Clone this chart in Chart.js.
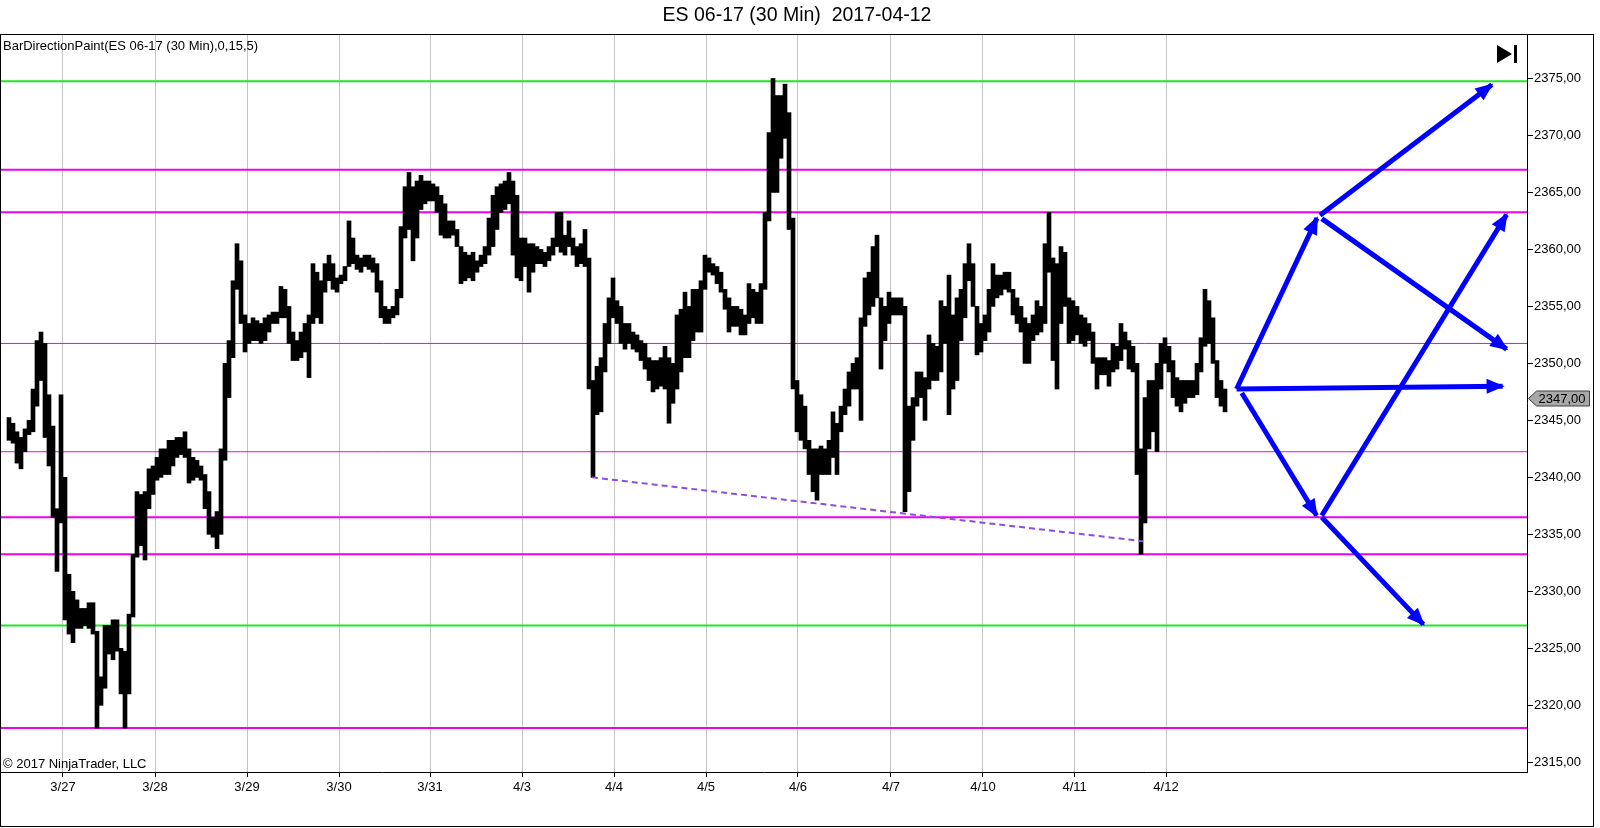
<!DOCTYPE html>
<html>
<head>
<meta charset="utf-8">
<script src="https://cdn.jsdelivr.net/npm/chart.js@4/dist/chart.umd.min.js"></script>
<style>
  html, body { margin: 0; padding: 0; background: #fff; }
  canvas { display: block; }
</style>
</head>
<body>
<canvas id="chart" width="1600" height="828"></canvas>
<script>
const chartTitle = "ES 06-17 (30 Min)  2017-04-12";
const indicatorLabel = "BarDirectionPaint(ES 06-17 (30 Min),0,15,5)";
const copyrightText = "\u00a9 2017 NinjaTrader, LLC";

// x axis is in hours from the left edge of the chart
const dayLabels = ["3/27", "3/28", "3/29", "3/30", "3/31", "4/3", "4/4", "4/5", "4/6", "4/7", "4/10", "4/11", "4/12"];
const dayTicks = [15.5, 38.5, 61.5, 84.5, 107.25, 130.25, 153.25, 176.25, 199.25, 222.5, 245.5, 268.4, 291.25];
const priceTicks = [2315, 2320, 2325, 2330, 2335, 2340, 2345, 2350, 2355, 2360, 2365, 2370, 2375];
const xMax = 381.5;
const yMin = 2314.15;
const yMax = 2378.9;

// hourly low / high, first entry is hour 2
const firstHour = 2;
const barLow = [
  2343.25, 2343, 2341.25, 2340.75, 2342.25, 2343.75, 2344, 2346.25, 2348.5, 2343.5,
  2341, 2336.5, 2331.75, 2336, 2327.5, 2326.25, 2325.5, 2326.75, 2326.75, 2327,
  2326.75, 2326.25, 2318, 2320, 2321.5, 2324.5, 2324, 2324.75, 2321, 2318,
  2321, 2327.75, 2333, 2334, 2332.75, 2337.25, 2338.5, 2339.75, 2340, 2340.25,
  2340.25, 2341, 2341.75, 2342, 2341.75, 2339.5, 2339.75, 2340, 2339.75, 2337.25,
  2335, 2334.75, 2333.75, 2335, 2341.5, 2347, 2350.5, 2356.5, 2353.5, 2351,
  2351.75, 2352, 2352, 2351.75, 2352, 2352.75, 2353.5, 2353.5, 2354, 2354,
  2351.75, 2350.25, 2350.25, 2350.5, 2351, 2348.75, 2353.5, 2354, 2353.5, 2356.25,
  2357.25, 2356.5, 2356.25, 2357, 2357.25, 2358.5, 2358.75, 2358.25, 2358, 2358.5,
  2358.25, 2358, 2356.25, 2354, 2353.5, 2353.5, 2354, 2354.25, 2355.75, 2361,
  2361.75, 2359, 2361, 2363.5, 2364, 2364.25, 2364.25, 2363.25, 2361.25, 2361,
  2361, 2361.25, 2360.25, 2357, 2357.25, 2357.5, 2357.25, 2358, 2358.5, 2358.75,
  2359.5, 2360.25, 2361.75, 2363.25, 2363.5, 2364, 2359.5, 2357.5, 2357.25, 2358.5,
  2356.25, 2358, 2358.75, 2358.75, 2358.5, 2359, 2359.5, 2360.25, 2359.75, 2359.5,
  2360.25, 2359.5, 2358.5, 2358.75, 2358.5, 2347.75, 2340, 2345.5, 2345.75, 2349.25,
  2351.75, 2354, 2353.5, 2351.75, 2351.25, 2351.75, 2351.25, 2351, 2350.25, 2349.5,
  2348.5, 2347.5, 2347.75, 2348, 2347.75, 2344.75, 2346.5, 2347.75, 2349.25, 2350.5,
  2350.5, 2352, 2352.75, 2352.75, 2356.5, 2358, 2357.75, 2357, 2356.25, 2354.75,
  2352.75, 2353.25, 2353.25, 2352.5, 2352.5, 2353.5, 2354, 2353.5, 2353.5, 2356.5,
  2362.5, 2365, 2365, 2368, 2369.75, 2361.75, 2347.75, 2344, 2343.25, 2342.5,
  2340.25, 2338.75, 2338, 2340.25, 2340.25, 2340.25, 2341.75, 2340.25, 2344, 2345.5,
  2346.25, 2347.75, 2347.75, 2345, 2353.25, 2354.25, 2355, 2355.75, 2349.5, 2352,
  2353.5, 2354.25, 2354.25, 2354.25, 2337, 2338.75, 2343.25, 2346.25, 2347, 2345,
  2347.75, 2348.5, 2348.5, 2349.25, 2351.75, 2345.5, 2347.75, 2348.5, 2352, 2354,
  2357.25, 2355, 2350.75, 2351, 2352, 2352.75, 2355, 2355.75, 2356, 2356.5,
  2356.25, 2354.25, 2353.5, 2352.75, 2350, 2350, 2352, 2352.5, 2352.75, 2353.5,
  2358, 2350.25, 2347.75, 2353.5, 2355, 2351.75, 2352, 2352.5, 2351.75, 2351.5,
  2352, 2350, 2347.75, 2349, 2349, 2348, 2349.25, 2349.5, 2350.25, 2351.25,
  2349.5, 2349.25, 2340.25, 2333.25, 2336, 2342.5, 2344, 2342.25, 2347.75, 2350,
  2349.25, 2347, 2346.25, 2345.75, 2346.5, 2347, 2347, 2347.25, 2349.25, 2351.5,
  2351.75, 2350, 2347, 2346.25, 2345.75
];
const barHigh = [
  2345.25, 2344.75, 2344, 2343.5, 2344.25, 2345, 2347.75, 2352, 2352.75, 2351.75,
  2347.25, 2344.5, 2337.25, 2347.25, 2340, 2331.5, 2330, 2329.25, 2328.5, 2328.5,
  2329, 2329, 2326.5, 2322.5, 2327, 2327, 2327.5, 2327.5, 2325, 2324.75,
  2328, 2333.25, 2338.75, 2338.5, 2338.75, 2340.75, 2341, 2341.75, 2342.5, 2342.5,
  2343.25, 2343.25, 2343.5, 2343.5, 2344, 2342.5, 2341.75, 2341.5, 2341, 2340.25,
  2338.75, 2336.5, 2337, 2342.5, 2350, 2352, 2357.25, 2360.5, 2359, 2354.25,
  2353.5, 2354, 2353.75, 2353.5, 2354, 2354.25, 2354.5, 2354.5, 2356.75, 2356.5,
  2355, 2352.75, 2352, 2352.75, 2353.5, 2354.25, 2358.75, 2358, 2357.25, 2358.75,
  2359.5, 2358.75, 2357.5, 2357.75, 2358.5, 2362.5, 2361, 2359.5, 2359.25, 2359.5,
  2359.5, 2359.25, 2358.75, 2357.25, 2355, 2354.75, 2355, 2356.5, 2362, 2365.5,
  2366.75, 2365.5, 2366, 2366.5, 2366, 2366, 2365.75, 2365.5, 2364.75, 2364,
  2362.5, 2362.5, 2361.75, 2360.25, 2359.75, 2359.5, 2359.75, 2359, 2359.5, 2360.25,
  2362.75, 2364.75, 2365.5, 2365.75, 2366, 2366.75, 2366, 2364.75, 2361, 2361,
  2360.5, 2360.5, 2360.25, 2360, 2359.75, 2360.25, 2361, 2363.25, 2363.25, 2361.25,
  2362.5, 2361, 2360.25, 2360.5, 2361.75, 2359.25, 2348.5, 2349.75, 2350.5, 2353.5,
  2355.75, 2357.5, 2355.5, 2355, 2353.5, 2353.5, 2352.75, 2352.5, 2352, 2351.75,
  2350.5, 2350.25, 2350.25, 2350.5, 2351.5, 2350.5, 2350, 2354.25, 2354.75, 2356.25,
  2355, 2356.5, 2356.5, 2357.25, 2359.5, 2359.25, 2358.75, 2358.5, 2358, 2356.5,
  2355.75, 2355, 2355, 2354.75, 2354.25, 2357, 2356.5, 2356.25, 2357, 2363.25,
  2370.25, 2375, 2373.5, 2373.5, 2374.5, 2372, 2362.75, 2348.5, 2347.25, 2346.25,
  2343.25, 2342.5, 2342.5, 2342.75, 2342.5, 2343.25, 2345.75, 2344.75, 2346.25, 2347.75,
  2349.25, 2350, 2350.5, 2354, 2357.5, 2358, 2360.25, 2361.25, 2355.75, 2355,
  2356.25, 2355.75, 2355.75, 2355.75, 2355, 2346.25, 2347, 2349.25, 2349.25, 2348.75,
  2352.5, 2351.75, 2351.5, 2355.5, 2355, 2357.75, 2354.25, 2355.75, 2356.5, 2358.75,
  2360.5, 2358.75, 2355, 2353.5, 2354.25, 2356.5, 2358.75, 2357.75, 2357.75, 2358,
  2358, 2356.5, 2355.75, 2355, 2354, 2353.5, 2354.25, 2355.5, 2355, 2360.5,
  2363.25, 2359.25, 2358.75, 2360.25, 2359.75, 2355.75, 2355.5, 2355, 2354.25, 2354,
  2353.5, 2352.75, 2350.5, 2350.5, 2350.5, 2350.25, 2351.75, 2351.5, 2353.5, 2352.75,
  2352, 2351.5, 2350, 2342.5, 2347, 2348.5, 2348.5, 2350, 2351.75, 2352.25,
  2351.5, 2350.25, 2348.75, 2348.5, 2348.5, 2348.5, 2348.5, 2350, 2352.25, 2356.5,
  2355.5, 2354, 2350.25, 2348.5, 2347.75
];
const lastPrice = 2347;

const greenLevels = [2374.75, 2327];
const magentaLevels = [2367, 2363.25, 2336.5, 2333.25, 2318];
const magentaThinLevels = [2351.75, 2342.25];

const trendFrom = [147.75, 2340];
const trendTo = [285.5, 2334.4];

const arrowFrom = [[308.9, 2347.75], [329.75, 2363], [330.2, 2362.7], [308.9, 2347.75], [310.2, 2347.4], [330.2, 2336.65], [330.2, 2336.5]];
const arrowTo = [[329, 2362.75], [372.7, 2374.45], [376.4, 2351.25], [375.4, 2348], [328.9, 2336.65], [376.4, 2363.05], [355.6, 2327.1]];

const FONT = "'Liberation Sans', Arial, sans-serif";
Chart.defaults.font.family = FONT;
Chart.defaults.font.size = 13;
Chart.defaults.color = "#000";

function levelLine(v, color, width) {
    return {
        type: "line",
        data: [{ x: 0, y: v }, { x: xMax, y: v }],
        borderColor: color,
        borderWidth: width,
        pointRadius: 0,
        order: 3,
    };
}

const datasets = [];
greenLevels.forEach((v) => datasets.push(levelLine(v, "#22e622", 2)));
magentaLevels.forEach((v) => datasets.push(levelLine(v, "#f000f0", 2)));
magentaThinLevels.forEach((v) => datasets.push(levelLine(v, "#f000f0", 1)));

datasets.push({
    type: "bar",
    data: barLow.map((lo, i) => ({ x: firstHour + i, y: [lo, barHigh[i]] })),
    backgroundColor: "#000",
    borderWidth: 0,
    barThickness: 4,
    order: 2,
});

datasets.push({
    type: "line",
    data: [{ x: trendFrom[0], y: trendFrom[1] }, { x: trendTo[0], y: trendTo[1] }],
    borderColor: "#8a4ee0",
    borderWidth: 2,
    borderDash: [6, 4],
    pointRadius: 0,
    order: 1,
});

arrowFrom.forEach((p, i) => {
    datasets.push({
        type: "line",
        arrow: true,
        data: [{ x: p[0], y: p[1] }, { x: arrowTo[i][0], y: arrowTo[i][1] }],
        borderColor: "#0000ff",
        borderWidth: 5,
        pointRadius: 0,
        order: 0,
    });
});

const decorations = {
    id: "decorations",
    afterDatasetsDraw(chart) {
        const ctx = chart.ctx;
        chart.data.datasets.forEach((ds, i) => {
            if (!ds.arrow) return;
            const pts = chart.getDatasetMeta(i).data;
            const a = pts[0], b = pts[1];
            const ang = Math.atan2(b.y - a.y, b.x - a.x);
            ctx.save();
            ctx.translate(b.x, b.y);
            ctx.rotate(ang);
            ctx.fillStyle = ds.borderColor;
            ctx.beginPath();
            ctx.moveTo(2, 0);
            ctx.lineTo(-16, -7.5);
            ctx.lineTo(-16, 7.5);
            ctx.closePath();
            ctx.fill();
            ctx.restore();
        });
    },
    afterDraw(chart) {
        const ctx = chart.ctx;
        const area = chart.chartArea;
        ctx.save();
        ctx.fillStyle = "#000";
        ctx.textBaseline = "middle";

        ctx.font = "19.5px " + FONT;
        ctx.textAlign = "center";
        ctx.fillText(chartTitle, 797, 16);

        ctx.font = "13px " + FONT;
        ctx.textAlign = "left";
        ctx.fillText(indicatorLabel, 3, 46);
        ctx.fillText(copyrightText, 3, 764);

        // outer frame
        ctx.strokeStyle = "#000";
        ctx.lineWidth = 1;
        ctx.strokeRect(0.5, 34.5, 1593, 792);

        // go-to-end icon
        ctx.beginPath();
        ctx.moveTo(1497, 45);
        ctx.lineTo(1512, 54);
        ctx.lineTo(1497, 63);
        ctx.closePath();
        ctx.fill();
        ctx.fillRect(1514, 45, 3, 18);

        // last price marker
        const y = Math.round(chart.scales.y.getPixelForValue(lastPrice)) + 0.5;
        const x0 = area.right + 1.5;
        ctx.beginPath();
        ctx.moveTo(x0, y);
        ctx.lineTo(x0 + 8, y - 7.5);
        ctx.lineTo(x0 + 61, y - 7.5);
        ctx.lineTo(x0 + 61, y + 7.5);
        ctx.lineTo(x0 + 8, y + 7.5);
        ctx.closePath();
        ctx.fillStyle = "#a8a8a8";
        ctx.fill();
        ctx.strokeStyle = "#404040";
        ctx.stroke();
        ctx.fillStyle = "#000";
        ctx.fillText(lastPrice.toFixed(2).replace(".", ","), x0 + 10, y + 0.5);
        ctx.restore();
    },
};

new Chart(document.getElementById("chart"), {
    type: "bar",
    data: { datasets: datasets },
    options: {
        responsive: false,
        animation: false,
        devicePixelRatio: 1,
        layout: { padding: { left: 1, top: 34, right: 0, bottom: 0 } },
        plugins: { legend: { display: false }, tooltip: { enabled: false }, title: { display: false } },
        scales: {
            x: {
                type: "linear",
                min: 0,
                max: xMax,
                offset: false,
                afterBuildTicks: (scale) => { scale.ticks = dayTicks.map((v) => ({ value: v })); },
                afterFit: (scale) => { scale.height = 56; },
                ticks: {
                    autoSkip: false,
                    maxRotation: 0,
                    padding: 3,
                    callback: (v, i) => dayLabels[i],
                },
                grid: { color: "#c4c4c4", offset: false, tickColor: "#000", tickLength: 5 },
                border: { display: true, color: "#000" },
            },
            y: {
                type: "linear",
                position: "right",
                min: yMin,
                max: yMax,
                afterBuildTicks: (scale) => { scale.ticks = priceTicks.map((v) => ({ value: v })); },
                afterFit: (scale) => { scale.width = 73; },
                ticks: {
                    padding: 1,
                    callback: (v) => v.toFixed(2).replace(".", ","),
                },
                grid: { drawOnChartArea: false, tickColor: "#000", tickLength: 6 },
                border: { display: true, color: "#000" },
            },
        },
    },
    plugins: [decorations],
});
</script>
</body>
</html>
